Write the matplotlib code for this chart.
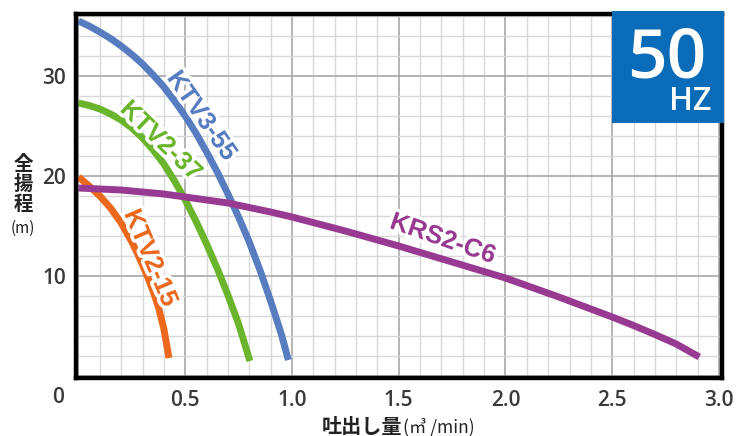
import matplotlib
matplotlib.use("Agg")
import matplotlib.pyplot as plt
from matplotlib import patheffects as pe
from matplotlib.ticker import MultipleLocator
from matplotlib.patches import Rectangle

# ---- data ----
ktv355_q = [0, 0.05, 0.1, 0.15, 0.2, 0.25, 0.3, 0.35, 0.4, 0.45, 0.5, 0.55, 0.6, 0.65,
            0.7, 0.75, 0.8, 0.85, 0.9, 0.95, 0.983]
ktv355_h = [35.5, 35.0, 34.4, 33.75, 33.0, 32.15, 31.2, 30.1, 28.9, 27.5, 26.0, 24.3, 22.4, 20.4,
            18.2, 15.9, 13.4, 10.6, 7.5, 4.2, 1.6]

ktv237_q = [0, 0.05, 0.1, 0.15, 0.2, 0.25, 0.3, 0.35, 0.4, 0.45, 0.5, 0.55, 0.6, 0.65,
            0.7, 0.75, 0.803]
ktv237_h = [27.3, 27.05, 26.7, 26.2, 25.6, 24.8, 23.8, 22.6, 21.2, 19.5, 17.6, 15.5, 13.2, 10.75,
            8.1, 5.2, 1.5]

ktv215_q = [0, 0.05, 0.1, 0.15, 0.2, 0.25, 0.275, 0.3, 0.325, 0.35, 0.375, 0.4, 0.424]
ktv215_h = [19.9, 19.0, 18.0, 16.8, 15.3, 13.4, 12.3, 11.1, 9.85, 8.45, 6.85, 4.7, 1.8]

krs2c6_q = [0, 0.1, 0.2, 0.3, 0.4, 0.5, 0.7, 0.9, 1.0, 1.25, 1.5, 1.75, 2.0, 2.25, 2.5,
            2.6, 2.7, 2.8, 2.908]
krs2c6_h = [18.8, 18.7, 18.6, 18.4, 18.2, 17.9, 17.3, 16.4, 15.9, 14.5, 13.0, 11.4, 9.8, 7.9, 5.9,
            5.05, 4.15, 3.2, 1.9]

series_names = ["KTV3-55", "KTV2-37", "KTV2-15", "KRS2-C6"]
x_ticks = [0, 0.5, 1.0, 1.5, 2.0, 2.5, 3.0]
x_tick_labels = ["", "0.5", "1.0", "1.5", "2.0", "2.5", "3.0"]
y_ticks = [0, 10, 20, 30]
y_tick_labels = ["", "10", "20", "30"]

# ---- styling ----
c_blue = "#587cc0"
c_green = "#6ab52c"
c_orange = "#ec681c"
c_purple = "#983a91"
txt_col = "#3a3a3a"
cjk = ["Noto Sans CJK JP", "DejaVu Sans"]

W, H = 738, 436
fig = plt.figure(figsize=(W / 100, H / 100), dpi=100)
ax_l, ax_r, ax_t, ax_b = 75.5, 721.5, 13.5, 377.5
ax = fig.add_axes([ax_l / W, 1 - ax_b / H, (ax_r - ax_l) / W, (ax_b - ax_t) / H])
ax.set_xlim(-0.014, 3.012)
ax.set_ylim(-0.15, 36.25)

ax.xaxis.set_minor_locator(MultipleLocator(0.1))
ax.yaxis.set_minor_locator(MultipleLocator(2))
ax.set_xticks(x_ticks)
ax.set_xticklabels(x_tick_labels)
ax.set_yticks(y_ticks)
ax.set_yticklabels(y_tick_labels)
ax.grid(which="minor", color="#d8d8d8", linewidth=1.0)
ax.grid(which="major", color="#a8a8a8", linewidth=1.2)
ax.set_axisbelow(True)
ax.tick_params(which="both", length=0)
ax.tick_params(axis="x", pad=9)
ax.tick_params(axis="y", pad=7)
for lab in ax.get_xticklabels() + ax.get_yticklabels():
    lab.set_fontfamily("Open Sans")
    lab.set_fontweight("semibold")
    lab.set_fontsize(15)
    lab.set_color(txt_col)
for sp in ax.spines.values():
    sp.set_linewidth(3.2)
    sp.set_color("black")

lw = 5
for qs, hs, col in [(ktv355_q, ktv355_h, c_blue), (ktv237_q, ktv237_h, c_green),
                    (ktv215_q, ktv215_h, c_orange), (krs2c6_q, krs2c6_h, c_purple)]:
    ax.plot(qs, hs, color=col, lw=lw, solid_capstyle="butt", solid_joinstyle="round")

stroke = [pe.withStroke(linewidth=5, foreground="white")]
label_specs = [
    (series_names[0], 0.577, 26.0, -55, c_blue),
    (series_names[1], 0.386, 23.5, -44, c_green),
    (series_names[2], 0.337, 11.8, -67, c_orange),
    (series_names[3], 1.707, 13.7, -19, c_purple),
]
for name, qx, hy, rot, col in label_specs:
    ax.text(qx, hy, name, color=col, fontsize=18.5, fontweight="bold",
            family="Liberation Sans", rotation=rot, rotation_mode="anchor",
            ha="center", va="center", path_effects=stroke, zorder=5)

# "0" at the origin corner
fig.text(58 / W, 1 - 397 / H, "0", ha="center", va="center", fontsize=15,
         family="Open Sans", fontweight="semibold", color=txt_col)

# y label (vertical stacked)
for ch, yy in zip(["全", "揚", "程"], [165, 184.5, 204]):
    fig.text(23 / W, 1 - yy / H, ch, ha="center", va="center", fontsize=14,
             family=cjk, fontweight="bold", color="#222222")
fig.text(23 / W, 1 - 228 / H, "(m)", ha="center", va="center", fontsize=11,
         family=cjk, color="#222222")

# x label
fig.text(402 / W, 1 - 426 / H, "吐出し量", ha="right", va="center", fontsize=14.5,
         family=cjk, fontweight="bold", color="#222222")
fig.text(403 / W, 1 - 427 / H, "(㎥ /min)", ha="left", va="center", fontsize=12.5,
         family=cjk, color="#222222")

# 50 HZ badge
fig.patches.append(Rectangle((612 / W, 1 - 123 / H), 112 / W, 112 / H,
                             transform=fig.transFigure, facecolor="#0a6cb8",
                             edgecolor="none", zorder=10))
fig.text(667 / W, 1 - 78 / H, "50", ha="center", va="baseline", fontsize=50,
         family="Open Sans", fontweight="semibold", color="white", zorder=11)
fig.text(690 / W, 1 - 110 / H, "HZ", ha="center", va="baseline", fontsize=23,
         family="Open Sans", fontweight="semibold", color="white", zorder=11)

fig.savefig("out.png", dpi=100)
